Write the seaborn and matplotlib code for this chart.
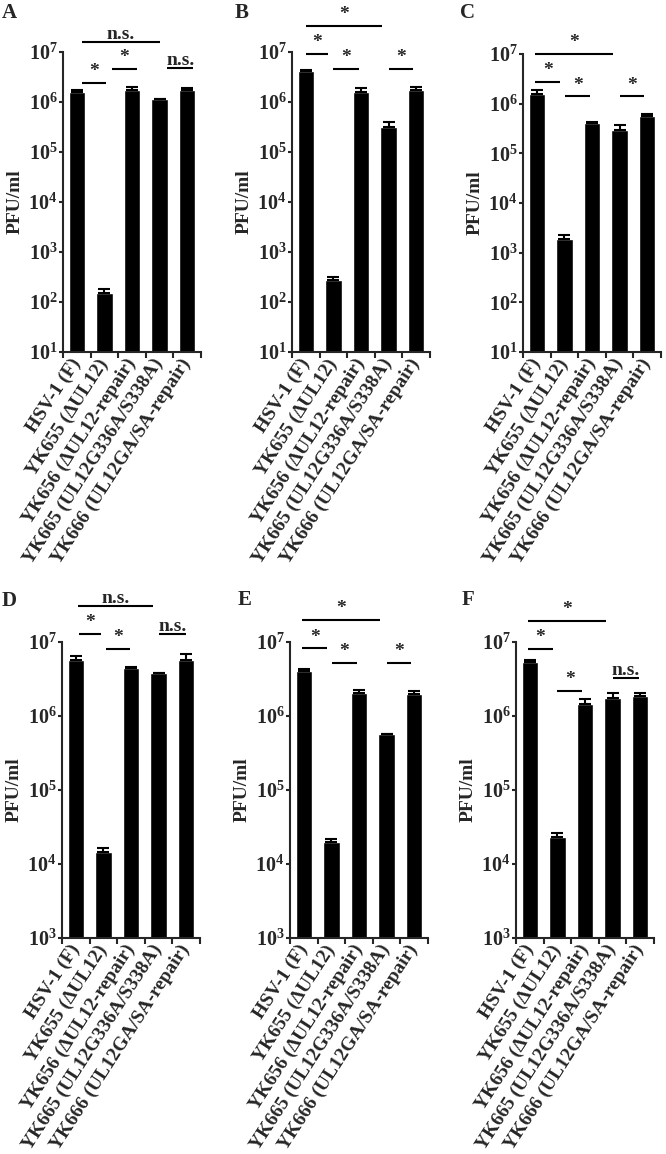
import numpy as np
import matplotlib
matplotlib.use("Agg")
import matplotlib.pyplot as plt
from matplotlib.ticker import NullLocator, FixedLocator
import seaborn as sns
import pandas as pd

#%% data
strains = ['HSV-1 (F)', 'YK655 (\u0394UL12)', 'YK656 (\u0394UL12-repair)',
           'YK665 (UL12G336A/S338A)', 'YK666 (UL12GA/SA-repair)']

pfu_A = [1.55e6, 150, 1.75e6, 1.13e6, 1.75e6]
err_A = [0.15e6, 30, 0.2e6, 0.03e6, 0.17e6]
pfu_B = [4.2e6, 280, 1.6e6, 3.2e5, 1.7e6]
err_B = [0.2e6, 30, 0.3e6, 0.7e5, 0.25e6]
pfu_C = [1.6e6, 1.9e3, 4.0e5, 3.0e5, 5.6e5]
err_C = [0.3e6, 0.35e3, 0.25e5, 0.7e5, 0.6e5]
pfu_D = [5.7e6, 1.45e4, 4.5e6, 3.8e6, 5.8e6]
err_D = [0.8e6, 0.17e4, 0.1e6, 0.05e6, 1.0e6]
pfu_E = [4.0e6, 2.0e4, 2.05e6, 5.7e5, 2.0e6]
err_E = [0.3e6, 0.2e4, 0.2e6, 0.1e5, 0.15e6]
pfu_F = [5.4e6, 2.3e4, 1.45e6, 1.75e6, 1.85e6]
err_F = [0.25e6, 0.3e4, 0.25e6, 0.27e6, 0.22e6]

# significance brackets: (from, to, height, label)
sig_A = [(0.2, 3.0, 1.6e7, 'n.s.'), (0.2, 1.05, 2.4e6, '*'),
         (1.27, 2.18, 4.6e6, '*'), (3.27, 4.22, 4.8e6, 'n.s.')]
sig_B = [(0.0, 2.75, 3.3e7, '*'), (0.0, 0.8, 9.1e6, '*'),
         (1.0, 1.92, 4.6e6, '*'), (3.0, 3.87, 4.6e6, '*')]
sig_C = [(-0.05, 2.76, 1.02e7, '*'), (-0.05, 0.85, 2.7e6, '*'),
         (1.03, 1.93, 1.4e6, '*'), (3.0, 3.9, 1.4e6, '*')]
sig_D = [(0.09, 2.78, 3.1e7, 'n.s.'), (0.1, 0.92, 1.3e7, '*'),
         (1.1, 1.98, 8.0e6, '*'), (3.03, 4.0, 1.3e7, 'n.s.')]
sig_E = [(-0.05, 2.76, 2.0e7, '*'), (-0.05, 0.84, 8.2e6, '*'),
         (1.02, 1.92, 5.2e6, '*'), (3.0, 3.87, 5.2e6, '*')]
sig_F = [(-0.07, 2.75, 1.95e7, '*'), (-0.07, 0.83, 8.0e6, '*'),
         (1.0, 1.9, 2.2e6, '*'), (3.0, 3.97, 3.3e6, 'n.s.')]

#%% style
sns.set_style('ticks')
plt.rcParams['font.family'] = ['Liberation Serif', 'DejaVu Serif']
plt.rcParams['font.weight'] = 'bold'
plt.rcParams['mathtext.fontset'] = 'custom'
plt.rcParams['mathtext.rm'] = 'Liberation Serif:bold'
plt.rcParams['mathtext.bf'] = 'Liberation Serif:bold'
plt.rcParams['axes.linewidth'] = 1.5

W, H = 666, 1154
fig = plt.figure(figsize=(W / 100, H / 100), dpi=100)

# panel layout in pixels: letter, left, top, width, height, ymin exponent
panels = [
    ('A', pfu_A, err_A, sig_A, 63, 52, 138, 300, 1, (2, 18)),
    ('B', pfu_B, err_B, sig_B, 292, 52, 138, 300, 1, (235, 18)),
    ('C', pfu_C, err_C, sig_C, 523, 54, 138, 298, 1, (460, 18)),
    ('D', pfu_D, err_D, sig_D, 62, 642, 138, 296, 3, (2, 606)),
    ('E', pfu_E, err_E, sig_E, 290, 642, 138, 296, 3, (238, 605)),
    ('F', pfu_F, err_F, sig_F, 516, 642, 138, 296, 3, (462, 605)),
]

for letter, vals, errs, sigs, l, t, w, h, ymin, lpos in panels:
    ax = fig.add_axes([l / W, 1 - (t + h) / H, w / W, h / H])
    ax.set_yscale('log')
    df = pd.DataFrame({'strain': strains, 'pfu': vals})
    sns.barplot(data=df, x='strain', y='pfu', color='black', width=0.6,
                saturation=1, errorbar=None, ax=ax)
    xs = np.arange(len(strains))
    ax.errorbar(xs, vals, yerr=[np.zeros(len(vals)), errs], fmt='none',
                ecolor='black', elinewidth=1.5, capsize=4.5, capthick=1.5)
    ax.set_ylim(10 ** ymin, 1e7)
    ax.set_xlim(-0.5, 4.5)
    dec = list(range(ymin, 8))
    ax.set_yticks([10.0 ** d for d in dec])
    ax.set_yticklabels([r'$\mathbf{10^{%d}}$' % d for d in dec], fontsize=14.5)
    ax.yaxis.set_minor_locator(NullLocator())
    ax.tick_params(axis='y', length=3, width=1.5, pad=1)
    ax.set_xticks(xs)
    ax.set_xticklabels(strains, rotation=57, ha='right', va='center',
                       rotation_mode='anchor', fontsize=14, fontweight='bold')
    ax.tick_params(axis='x', which='major', length=0, pad=6)
    ax.xaxis.set_minor_locator(FixedLocator(np.arange(-0.5, 5, 1)))
    ax.tick_params(axis='x', which='minor', length=4, width=1.5)
    ax.set_xlabel('')
    ax.set_ylabel('PFU/ml', fontsize=14, fontweight='bold', labelpad=3)
    sns.despine(ax=ax)
    for x0, x1, y, lab in sigs:
        ax.plot([x0, x1], [y, y], color='black', lw=1.5, clip_on=False,
                solid_capstyle='butt')
        off = 2 if lab == '*' else -1
        ax.annotate(lab, ((x0 + x1) / 2, y), xytext=(0, off),
                    textcoords='offset points', ha='center', va='bottom',
                    fontsize=14, fontweight='bold', annotation_clip=False)
    fig.text(lpos[0] / W, 1 - lpos[1] / H, letter, fontsize=15,
             fontweight='bold', ha='left', va='baseline')

fig.savefig('out.png', dpi=100)
